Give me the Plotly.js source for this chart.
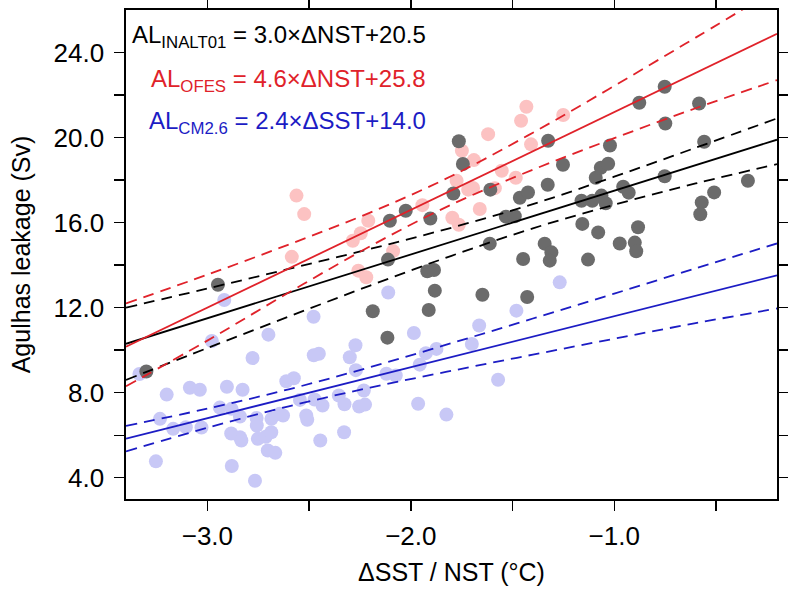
<!DOCTYPE html>
<html>
<head>
<meta charset="utf-8">
<script src="https://cdn.plot.ly/plotly-3.0.1.min.js"></script>
<style>
  body { margin: 0; background: #fff; }
  #chart { width: 788px; height: 593px; }
</style>
</head>
<body>
<div id="chart"></div>
<script>
// INALT01 (grey)
var xGrey = [-3.300, -2.948, -2.187, -2.115, -2.112, -2.103, -2.025, -1.904, -1.919, -1.886,
             -1.882, -1.912, -1.791, -1.764, -1.744, -1.609, -1.612, -1.648, -1.533, -1.489,
             -1.464, -1.424, -1.448, -1.428, -1.325, -1.252, -1.327, -1.342, -1.309, -1.317,
             -1.129, -1.157, -1.161, -1.108, -1.063, -1.042, -1.079, -1.091, -1.066, -1.030,
             -1.021, -0.956, -0.929, -0.973, -0.899, -0.892, -0.883, -0.877, -0.752, -0.749,
             -0.752, -0.583, -0.558, -0.509, -0.570, -0.577, -0.343];
var yGrey = [9.00, 13.08, 11.83, 10.59, 14.26, 16.09, 16.56, 16.19, 13.71, 13.77,
             12.80, 11.89, 17.37, 19.83, 18.76, 17.55, 15.01, 12.61, 16.28, 16.30,
             17.17, 17.42, 14.29, 12.50, 19.85, 18.72, 17.78, 15.01, 14.60, 14.21,
             14.26, 15.94, 17.03, 17.03, 17.27, 16.91, 15.54, 18.11, 18.58, 18.77,
             19.63, 17.69, 17.41, 15.02, 15.06, 14.65, 15.78, 21.64, 22.39, 20.66,
             18.18, 21.60, 19.80, 17.42, 16.95, 16.39, 17.97];

// OFES (pink)
var xPink = [-2.562, -2.524, -2.585, -2.209, -2.246, -2.285, -2.258, -2.219, -2.087, -1.943,
             -1.796, -1.764, -1.749, -1.690, -1.620, -1.775, -1.718, -1.694, -1.587, -1.661,
             -1.553, -1.484, -1.458, -1.432, -1.409, -1.251];
var yPink = [17.27, 16.40, 14.39, 16.09, 15.50, 15.15, 13.74, 13.43, 14.66, 16.82,
             16.23, 15.90, 19.38, 18.94, 20.16, 17.97, 17.55, 17.63, 17.62, 16.64,
             18.44, 18.11, 20.79, 21.45, 19.68, 21.06];

// CM2.6 (light blue)
var xBlue = [-3.334, -3.253, -3.233, -3.200, -3.168, -3.106, -3.086, -3.037, -3.029, -2.978,
             -2.917, -2.939, -2.904, -2.881, -2.840, -2.883, -2.840, -2.833, -2.880, -2.827,
             -2.778, -2.766, -2.758, -2.757, -2.752, -2.713, -2.686, -2.703, -2.666, -2.700,
             -2.685, -2.644, -2.628, -2.612, -2.575, -2.545, -2.514, -2.509, -2.478, -2.477,
             -2.452, -2.473, -2.434, -2.445, -2.354, -2.328, -2.326, -2.300, -2.272, -2.270,
             -2.254, -2.225, -2.231, -2.120, -2.074, -1.985, -1.956, -1.964, -1.926, -1.874,
             -1.825, -2.111, -1.700, -1.664, -1.571, -1.481, -1.268];
var yBlue = [8.88, 4.77, 6.77, 7.91, 6.30, 6.38, 8.23, 8.14, 6.36, 10.43,
             12.36, 7.30, 8.28, 7.24, 6.88, 6.08, 5.91, 5.75, 4.55, 8.14,
             9.63, 3.86, 6.81, 6.46, 5.83, 5.93, 6.14, 5.28, 5.17, 10.73,
             6.77, 7.01, 6.93, 8.54, 8.68, 7.66, 6.93, 6.73, 11.57, 9.76,
             9.83, 7.68, 7.40, 5.75, 7.87, 6.14, 7.46, 9.67, 10.23, 9.06,
             7.35, 7.44, 8.10, 8.89, 8.81, 10.81, 9.32, 7.48, 9.86, 10.06,
             6.97, 12.71, 10.29, 11.16, 8.61, 11.86, 13.19];

// regression lines (ends) and confidence bands
var fitX = [-3.4, -0.2];
var blackFit = [10.3, 19.9];
var redFit = [10.16, 24.88];
var blueFit = [5.84, 13.52];

var bandX = [-3.4, -3.0, -2.6, -2.2, -1.8, -1.4, -1.0, -0.6, -0.2];
var blackUpper = [12.0, 12.9, 13.82, 14.76, 15.76, 16.87, 18.16, 19.52, 20.9];
var blackLower = [8.6, 10.1, 11.58, 13.04, 14.44, 15.73, 16.84, 17.84, 18.75];
var redUpper = [12.2, 13.55, 14.97, 16.47, 18.19, 20.23, 22.43, 24.7, 27.0];
var redLower = [8.3, 10.45, 12.71, 14.89, 16.85, 18.49, 19.97, 21.38, 22.7];
var blueUpper = [6.44, 7.25, 8.16, 9.2, 10.33, 11.49, 12.66, 13.85, 15.02];
var blueLower = [5.24, 6.35, 7.36, 8.24, 9.03, 9.79, 10.54, 11.27, 11.96];

var xTicks = [-3.0, -2.0, -1.0];
var xTickText = ['\u22123.0', '\u22122.0', '\u22121.0'];
var xMinor = [-2.5, -1.5, -0.5];
var yTicks = [4, 8, 12, 16, 20, 24];
var yTickText = ['4.0', '8.0', '12.0', '16.0', '20.0', '24.0'];
var yMinor = [6, 10, 14, 18, 22];

var RED = '#e0222a', BLUE = '#1c1cc4';
var FONT = 'Liberation Sans, Arial, Helvetica, sans-serif';

function dots(x, y, col) {
    return {x: x, y: y, mode: 'markers', type: 'scatter',
            marker: {color: col, size: 14, line: {width: 0}}};
}
function line(x, y, col, dash) {
    return {x: x, y: y, mode: 'lines', type: 'scatter',
            line: {color: col, width: 1.8, dash: dash || 'solid', shape: 'spline'}};
}

var traces = [
    dots(xBlue, yBlue, '#c8c8f6'),
    dots(xPink, yPink, '#fcc2c2'),
    dots(xGrey, yGrey, '#6b6b6b'),
    line(bandX, blueUpper, BLUE, '11px,7px'),
    line(bandX, blueLower, BLUE, '11px,7px'),
    line(fitX, blueFit, BLUE),
    line(bandX, blackUpper, '#000', '11px,7px'),
    line(bandX, blackLower, '#000', '11px,7px'),
    line(fitX, blackFit, '#000'),
    line(bandX, redUpper, RED, '11px,7px'),
    line(bandX, redLower, RED, '11px,7px'),
    line(fitX, redFit, RED)
];

var axisCommon = {
    showgrid: false, zeroline: false,
    showline: true, linecolor: '#000', linewidth: 1.6,
    mirror: 'allticks', ticks: 'outside', ticklen: 10, tickwidth: 1.4, tickcolor: '#000',
    tickmode: 'array', tickfont: {family: FONT, size: 26, color: '#000'}
};
function minorTicks(vals) {
    return {tickmode: 'array', tickvals: vals, ticks: 'outside', ticklen: 10,
            tickwidth: 1.4, tickcolor: '#000', showgrid: false};
}

var layout = {
    width: 788, height: 593,
    margin: {l: 126, r: 11, t: 10, b: 94},
    paper_bgcolor: '#fff', plot_bgcolor: '#fff',
    showlegend: false, hovermode: false,
    font: {family: FONT, color: '#000'},
    xaxis: Object.assign({}, axisCommon, {
        range: [-3.40, -0.20], tickvals: xTicks, ticktext: xTickText,
        minor: minorTicks(xMinor),
        ticklabelstandoff: 3,
        title: {text: '\u0394SST / NST (\u00b0C)', font: {family: FONT, size: 25}, standoff: 14}
    }),
    yaxis: Object.assign({}, axisCommon, {
        range: [3.0, 26.0], tickvals: yTicks, ticktext: yTickText,
        minor: minorTicks(yMinor),
        ticklabelstandoff: 5,
        title: {text: 'Agulhas leakage (Sv)', font: {family: FONT, size: 25}, standoff: 16}
    }),
    annotations: [
        {xref: 'paper', yref: 'paper', x: 0.4639, y: 0.9448, xanchor: 'right', yanchor: 'middle',
         showarrow: false, text: 'AL<sub>INALT01</sub> = 3.0\u00d7\u0394NST+20.5',
         font: {family: FONT, size: 24, color: '#000'}},
        {xref: 'paper', yref: 'paper', x: 0.4639, y: 0.8560, xanchor: 'right', yanchor: 'middle',
         showarrow: false, text: 'AL<sub>OFES</sub> = 4.6\u00d7\u0394NST+25.8',
         font: {family: FONT, size: 24, color: RED}},
        {xref: 'paper', yref: 'paper', x: 0.4639, y: 0.7700, xanchor: 'right', yanchor: 'middle',
         showarrow: false, text: 'AL<sub>CM2.6</sub> = 2.4\u00d7\u0394SST+14.0',
         font: {family: FONT, size: 24, color: BLUE}}
    ]
};

Plotly.newPlot('chart', traces, layout, {displayModeBar: false, staticPlot: true});
</script>
</body>
</html>
